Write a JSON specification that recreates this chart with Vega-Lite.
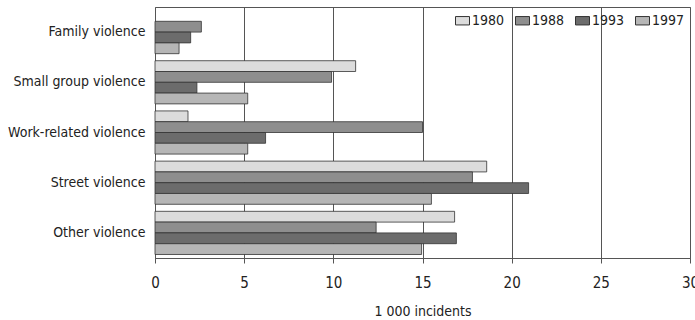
{
  "$schema": "https://vega.github.io/schema/vega-lite/v6.json",
  "autosize": "none",
  "padding": {"left": 155, "top": 7, "right": 5, "bottom": 62},
  "width": 535,
  "height": 251,
  "config": {
    "font": "DejaVu Sans Condensed, sans-serif",
    "view": {"stroke": "#555", "strokeWidth": 1},
    "axis": {"labelFont": "DejaVu Sans Condensed, sans-serif", "titleFont": "DejaVu Sans Condensed, sans-serif", "labelColor": "#222", "titleColor": "#222"},
    "legend": {"labelFont": "DejaVu Sans Condensed, sans-serif"}
  },
  "data": {
    "values": [
      {"category": "Family violence", "year": "1988", "value": 2.6},
      {"category": "Family violence", "year": "1993", "value": 2.0},
      {"category": "Family violence", "year": "1997", "value": 1.35},
      {"category": "Small group violence", "year": "1980", "value": 11.25},
      {"category": "Small group violence", "year": "1988", "value": 9.9},
      {"category": "Small group violence", "year": "1993", "value": 2.35},
      {"category": "Small group violence", "year": "1997", "value": 5.2},
      {"category": "Work-related violence", "year": "1980", "value": 1.85},
      {"category": "Work-related violence", "year": "1988", "value": 15.0},
      {"category": "Work-related violence", "year": "1993", "value": 6.2},
      {"category": "Work-related violence", "year": "1997", "value": 5.2},
      {"category": "Street violence", "year": "1980", "value": 18.6},
      {"category": "Street violence", "year": "1988", "value": 17.8},
      {"category": "Street violence", "year": "1993", "value": 20.95},
      {"category": "Street violence", "year": "1997", "value": 15.5},
      {"category": "Other violence", "year": "1980", "value": 16.8},
      {"category": "Other violence", "year": "1988", "value": 12.4},
      {"category": "Other violence", "year": "1993", "value": 16.9},
      {"category": "Other violence", "year": "1997", "value": 14.95}
    ]
  },
  "mark": {"type": "bar", "stroke": "#333", "strokeWidth": 0.8},
  "encoding": {
    "y": {
      "field": "category",
      "type": "nominal",
      "sort": ["Family violence", "Small group violence", "Work-related violence", "Street violence", "Other violence"],
      "scale": {"paddingInner": 0.14, "paddingOuter": 0.07},
      "axis": {"title": null, "ticks": false, "domain": false, "labelFontSize": 14, "labelPadding": 10, "grid": false}
    },
    "yOffset": {
      "field": "year",
      "type": "nominal",
      "scale": {"domain": ["1980", "1988", "1993", "1997"]}
    },
    "x": {
      "field": "value",
      "type": "quantitative",
      "scale": {"domain": [0, 30], "nice": false},
      "axis": {
        "values": [0, 5, 10, 15, 20, 25, 30],
        "title": "1 000 incidents",
        "titleFontSize": 14,
        "titleFontWeight": "normal",
        "titlePadding": 14,
        "labelFontSize": 15,
        "labelPadding": 12,
        "labelFlush": false,
        "tickSize": 5,
        "tickColor": "#555",
        "domainColor": "#555",
        "grid": true,
        "gridColor": "#555",
        "gridOpacity": 1
      }
    },
    "fill": {
      "field": "year",
      "type": "nominal",
      "scale": {"domain": ["1980", "1988", "1993", "1997"], "range": ["#dcdcdc", "#8e8e8e", "#6c6c6c", "#b6b6b6"]},
      "legend": {
        "title": null,
        "orient": "none",
        "legendX": 300,
        "legendY": 6,
        "direction": "horizontal",
        "labelFontSize": 14,
        "labelColor": "#222",
        "labelOffset": 2,
        "columnPadding": 8,
        "symbolType": "M-1,-0.6H1V0.6H-1Z",
        "symbolSize": 196,
        "symbolStrokeColor": "#333",
        "symbolStrokeWidth": 1
      }
    }
  }
}
